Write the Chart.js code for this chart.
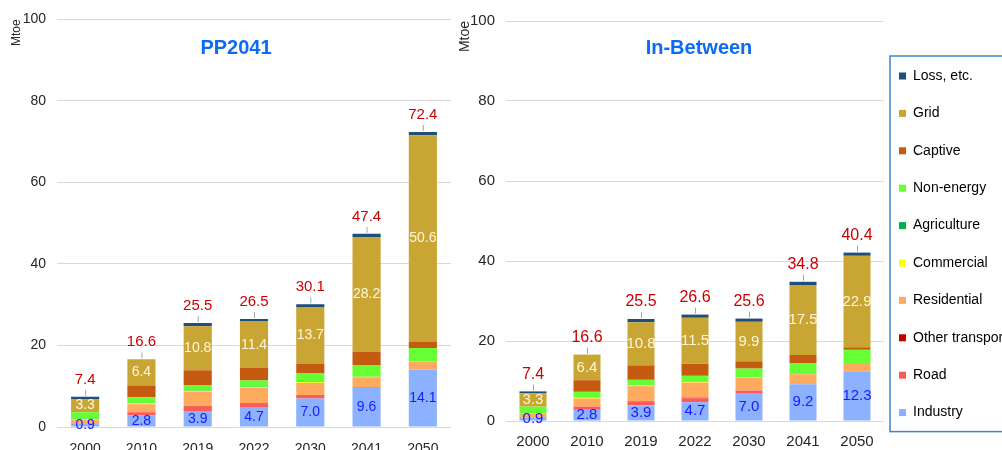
<!DOCTYPE html>
<html>
<head>
  <script src="https://cdn.jsdelivr.net/npm/chart.js"></script>
  <style>
    body { margin: 0; width: 1002px; height: 450px; overflow: hidden; background: #fff; position: relative; }
    canvas { position: absolute; top: 0; }
    #ppChart { left: 0px; }
    #ibChart { left: 455px; }
  </style>
</head>
<body>
  <canvas id="ppChart" width="451" height="467"></canvas>
  <canvas id="ibChart" width="547" height="461"></canvas>

  <script>
    // Years on the x axis
    var years = ['2000', '2010', '2019', '2022', '2030', '2041', '2050'];

    // Sectors, stacked from the bottom up
    var sectors = ['Industry', 'Road', 'Other transport', 'Residential', 'Commercial',
                   'Agriculture', 'Non-energy', 'Captive', 'Grid', 'Loss, etc.'];
    var sectorColors = ['#8cb1ff', '#ff5a5a', '#c00000', '#ffab5f', '#ffff00',
                        '#00b050', '#66ff33', '#c55a11', '#c9a534', '#1f4e79'];

    // PP2041 scenario (Mtoe)
    var ppIndustry     = [0.9, 2.8, 3.9, 4.7, 7.0, 9.6, 14.1];
    var ppRoad         = [0.1, 0.8, 1.0, 1.0, 0.6, 0.2, 0.0];
    var ppOtherTrans   = [0.0, 0.0, 0.1, 0.1, 0.1, 0.0, 0.0];
    var ppResidential  = [0.8, 2.0, 3.7, 3.8, 3.1, 2.4, 2.0];
    var ppCommercial   = [0.1, 0.2, 0.2, 0.2, 0.2, 0.1, 0.0];
    var ppAgriculture  = [0.1, 0.0, 0.1, 0.1, 0.1, 0.1, 0.0];
    var ppNonEnergy    = [1.6, 1.5, 1.3, 1.5, 2.0, 2.7, 3.3];
    var ppCaptive      = [0.0, 2.9, 3.6, 3.1, 2.5, 3.3, 1.6];
    var ppGrid         = [3.3, 6.4, 10.8, 11.4, 13.7, 28.2, 50.6];
    var ppLoss         = [0.5, 0.0, 0.8, 0.6, 0.8, 0.8, 0.8];
    var ppTotals       = [7.4, 16.6, 25.5, 26.5, 30.1, 47.4, 72.4];

    // In-Between scenario (Mtoe)
    var ibIndustry     = [0.9, 2.8, 3.9, 4.7, 7.0, 9.2, 12.3];
    var ibRoad         = [0.1, 0.8, 1.0, 1.0, 0.6, 0.0, 0.0];
    var ibOtherTrans   = [0.0, 0.0, 0.1, 0.1, 0.0, 0.0, 0.0];
    var ibResidential  = [0.8, 2.0, 3.7, 3.8, 3.3, 2.5, 2.2];
    var ibCommercial   = [0.1, 0.2, 0.2, 0.2, 0.1, 0.0, 0.0];
    var ibAgriculture  = [0.1, 0.0, 0.1, 0.1, 0.0, 0.0, 0.0];
    var ibNonEnergy    = [1.6, 1.5, 1.3, 1.4, 2.1, 2.8, 3.3];
    var ibCaptive      = [0.0, 2.9, 3.6, 3.0, 1.8, 2.0, 0.6];
    var ibGrid         = [3.3, 6.4, 10.8, 11.5, 9.9, 17.5, 22.9];
    var ibLoss         = [0.5, 0.0, 0.8, 0.8, 0.8, 0.8, 0.8];
    var ibTotals       = [7.4, 16.6, 25.5, 26.6, 25.6, 34.8, 40.4];

    var yTicks = [0, 20, 40, 60, 80, 100];

    var ppSeries = [ppIndustry, ppRoad, ppOtherTrans, ppResidential, ppCommercial,
                    ppAgriculture, ppNonEnergy, ppCaptive, ppGrid, ppLoss];
    var ibSeries = [ibIndustry, ibRoad, ibOtherTrans, ibResidential, ibCommercial,
                    ibAgriculture, ibNonEnergy, ibCaptive, ibGrid, ibLoss];

    Chart.defaults.font.family = '"Liberation Sans", Arial, sans-serif';

    function makeDatasets(series) {
      return series.map(function(values, i) {
        return {
          label: sectors[i],
          data: values,
          backgroundColor: sectorColors[i],
          borderWidth: 0,
          stack: 'total'
        };
      });
    }

    // value labels, totals and the panel title
    var barLabels = {
      id: 'barLabels',
      afterDatasetsDraw: function(chart, args, opts) {
        var ctx = chart.ctx;
        var fam = Chart.defaults.font.family;
        ctx.save();
        ctx.textAlign = 'center';
        ctx.textBaseline = 'middle';
        ctx.font = opts.labelSize + 'px ' + fam;
        [[0, '#1a1aff'], [8, '#fff6dc']].forEach(function(p) {
          var meta = chart.getDatasetMeta(p[0]);
          meta.data.forEach(function(bar, i) {
            var v = chart.data.datasets[p[0]].data[i];
            ctx.fillStyle = p[1];
            ctx.fillText(v.toFixed(1), bar.x, (bar.y + bar.base) / 2);
          });
        });
        var topMeta = chart.getDatasetMeta(chart.data.datasets.length - 1);
        ctx.font = opts.totalSize + 'px ' + fam;
        topMeta.data.forEach(function(bar, i) {
          var y = Math.min(bar.y, bar.base);
          ctx.strokeStyle = '#a6a6a6';
          ctx.lineWidth = 1;
          ctx.beginPath();
          ctx.moveTo(bar.x + 0.5, y - 1);
          ctx.lineTo(bar.x + 0.5, y - 7);
          ctx.stroke();
          ctx.fillStyle = '#cc0000';
          ctx.fillText(opts.totals[i].toFixed(1), bar.x, y - 17);
        });
        // panel title
        ctx.font = 'bold ' + opts.titleSize + 'px ' + fam;
        ctx.fillStyle = '#0a6cf5';
        ctx.fillText(opts.title, opts.titleX, opts.titleY);
        ctx.restore();
      },
      afterDraw: function(chart) {
        var lg = chart.legend;
        if (!lg || !chart.options.plugins.legend.display) return;
        var boxes = lg.legendHitBoxes;
        var first = boxes[0], last = boxes[boxes.length - 1];
        var ctx = chart.ctx;
        ctx.save();
        ctx.strokeStyle = '#3d85c6';
        ctx.lineWidth = 1.5;
        ctx.strokeRect(first.left - 9, first.top - 13, chart.width, last.top + 26 - (first.top - 13));
        ctx.restore();
      }
    };

    function makeConfig(series, totals, o) {
      return {
        type: 'bar',
        data: { labels: years, datasets: makeDatasets(series) },
        plugins: [barLabels],
        options: {
          responsive: false,
          animation: false,
          categoryPercentage: 0.5,
          barPercentage: 1.0,
          layout: { padding: { top: o.top, left: 0, right: 0, bottom: 0 } },
          plugins: {
            tooltip: { enabled: false },
            legend: o.legend,
            barLabels: {
              totals: totals, labelSize: o.labelSize, totalSize: o.totalSize,
              title: o.title, titleX: o.titleX, titleY: 48, titleSize: 20
            }
          },
          scales: {
            x: {
              stacked: true,
              grid: { display: false },
              border: { display: false },
              ticks: { color: '#262626', font: { size: o.tickSize }, padding: o.xPad },
              afterFit: function(s) { s.height = 40; }
            },
            y: {
              stacked: true,
              min: 0,
              max: 100,
              afterBuildTicks: function(s) { s.ticks = yTicks.map(function(v) { return { value: v }; }); },
              grid: { color: '#d9d9d9', drawTicks: false },
              border: { display: false },
              ticks: { color: '#262626', font: { size: o.tickSize }, padding: 11 },
              title: {
                display: true, text: 'Mtoe', align: 'end', color: '#262626',
                font: { size: o.unitSize }, padding: { top: o.unitPad, bottom: 0 }
              },
              afterFit: function(s) { s.width = o.yWidth; }
            }
          }
        }
      };
    }

    new Chart(document.getElementById('ppChart'), makeConfig(ppSeries, ppTotals, {
      top: 19, yWidth: 57, tickSize: 14, xPad: 6, labelSize: 14, totalSize: 15,
      unitSize: 12, unitPad: 9, title: 'PP2041', titleX: 236,
      legend: { display: false }
    }));

    new Chart(document.getElementById('ibChart'), makeConfig(ibSeries, ibTotals, {
      top: 21, yWidth: 51, tickSize: 15, xPad: 4, labelSize: 15, totalSize: 16,
      unitSize: 14, unitPad: 2, title: 'In-Between', titleX: 244,
      legend: {
        display: true,
        position: 'right',
        align: 'start',
        reverse: true,
        maxWidth: 118,
        title: { display: true, text: ' ', padding: 8.7, font: { size: 13 } },
        labels: {
          boxWidth: 7,
          boxHeight: 7,
          padding: 15,
          color: '#000',
          font: { size: 14, lineHeight: 1.6 },
          generateLabels: function(chart) {
            var items = Chart.defaults.plugins.legend.labels.generateLabels(chart);
            items.forEach(function(it) { it.text = [it.text]; it.lineWidth = 0; });
            return items;
          }
        }
      }
    }));
  </script>
</body>
</html>
